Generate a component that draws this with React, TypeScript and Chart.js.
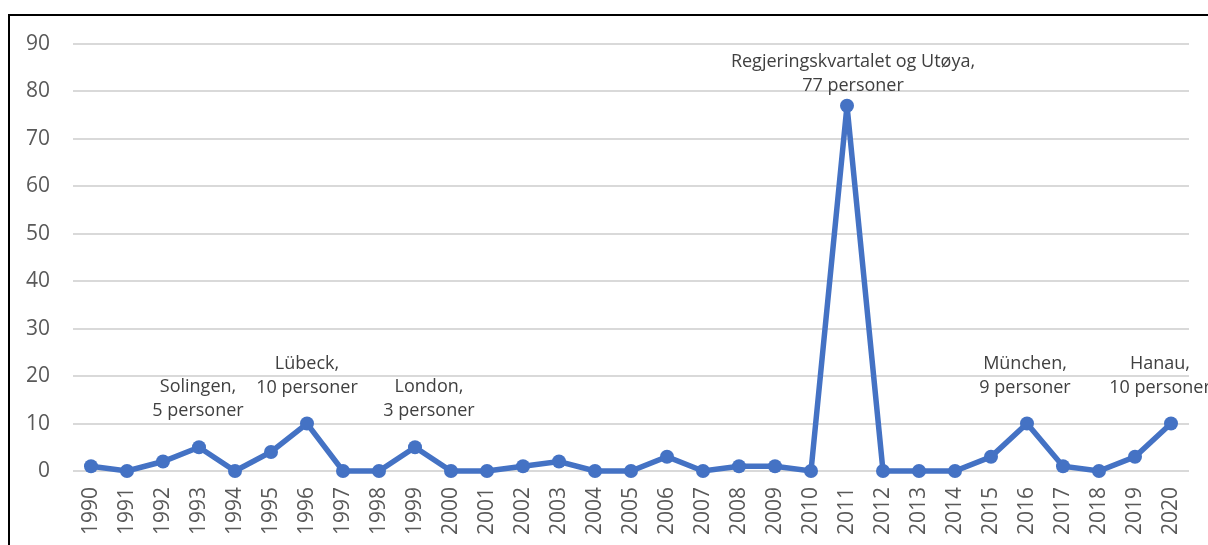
import React, { useEffect, useRef } from "react";
import { Chart, registerables } from "chart.js";

Chart.register(...registerables);

const years: string[] = [
  "1990", "1991", "1992", "1993", "1994", "1995", "1996", "1997", "1998", "1999",
  "2000", "2001", "2002", "2003", "2004", "2005", "2006", "2007", "2008", "2009",
  "2010", "2011", "2012", "2013", "2014", "2015", "2016", "2017", "2018", "2019", "2020",
];

const killed: number[] = [
  1, 0, 2, 5, 0, 4, 10, 0, 0, 5,
  0, 0, 1, 2, 0, 0, 3, 0, 1, 1,
  0, 77, 0, 0, 0, 3, 10, 1, 0, 3, 10,
];

const yTicks: number[] = [0, 10, 20, 30, 40, 50, 60, 70, 80, 90];

const annotationYears: string[] = ["1993", "1996", "1999", "2011", "2016", "2020"];
const annotationTexts: string[][] = [
  ["Solingen,", "5 personer"],
  ["Lübeck,", "10 personer"],
  ["London,", "3 personer"],
  ["Regjeringskvartalet og Utøya,", "77 personer"],
  ["München,", "9 personer"],
  ["Hanau,", "10 personer"],
];

// label placement offsets (styling only): [dx, dy above point for 2nd line center]
const annotationOffsets: [number, number][] = [
  [-1, 36],
  [0, 36],
  [14, 36],
  [6, 20],
  [-2, 36],
  [-11, 36],
];

const FONT = "'Open Sans', 'Noto Sans', sans-serif";

const annotationPlugin = {
  id: "eventLabels",
  afterDatasetsDraw(chart: any) {
    const ctx = chart.ctx as CanvasRenderingContext2D;
    const meta = chart.getDatasetMeta(0);
    ctx.save();
    ctx.font = `18px ${FONT}`;
    ctx.fillStyle = "#404040";
    ctx.textAlign = "center";
    ctx.textBaseline = "middle";
    annotationYears.forEach((yr, i) => {
      const idx = years.indexOf(yr);
      const el = meta.data[idx];
      if (!el) return;
      const [dx, dy] = annotationOffsets[i];
      const lines = annotationTexts[i];
      const lineH = 24;
      const lastY = el.y - dy;
      lines.forEach((t, j) => {
        const yy = lastY - (lines.length - 1 - j) * lineH;
        ctx.fillText(t, el.x + dx, yy);
      });
    });
    ctx.restore();
  },
};

export default function App() {
  const canvasRef = useRef<HTMLCanvasElement | null>(null);

  useEffect(() => {
    const canvas = canvasRef.current;
    if (!canvas) return;
    const chart = new Chart(canvas, {
      type: "line",
      data: {
        labels: years,
        datasets: [
          {
            data: killed,
            borderColor: "#4472C4",
            backgroundColor: "#4472C4",
            borderWidth: 5.5,
            pointRadius: 7,
            pointBackgroundColor: "#4472C4",
            pointBorderWidth: 0,
            tension: 0,
            clip: false as any,
          },
        ],
      },
      options: {
        responsive: false,
        animation: false,
        devicePixelRatio: 1,
        layout: { padding: { top: 44, right: 19, bottom: 0, left: 0 } },
        plugins: {
          legend: { display: false },
          tooltip: { enabled: false },
        },
        scales: {
          x: {
            type: "category",
            offset: true,
            grid: { display: false, drawTicks: false },
            border: { display: false },
            ticks: {
              minRotation: 90,
              maxRotation: 90,
              autoSkip: false,
              padding: 16,
              color: "#595959",
              font: { family: FONT, size: 21 },
            },
            afterFit: (scale: any) => {
              scale.height = 74;
              scale.paddingLeft = 0;
              scale.paddingRight = 0;
            },
          },
          y: {
            min: 0,
            max: 90,
            afterBuildTicks: (scale: any) => {
              scale.ticks = yTicks.map((v) => ({ value: v }));
            },
            grid: { color: "#d9d9d9", lineWidth: 2, drawTicks: false },
            border: { display: false },
            ticks: {
              padding: 23,
              color: "#595959",
              font: { family: FONT, size: 21 },
            },
            afterFit: (scale: any) => {
              scale.width = 73;
            },
          },
        },
      },
      plugins: [annotationPlugin],
    });
    return () => chart.destroy();
  }, []);

  return (
    <div
      style={{
        position: "fixed",
        left: 0,
        top: 0,
        width: 1208,
        height: 545,
        overflow: "hidden",
        background: "#ffffff",
      }}
    >
      <canvas
        ref={canvasRef}
        width={1208}
        height={545}
        style={{ position: "absolute", left: 0, top: 0, width: 1208, height: 545 }}
      />
      <div
        style={{
          position: "absolute",
          left: 8,
          top: 14,
          width: 1400,
          height: 800,
          borderTop: "2px solid #000",
          borderLeft: "2px solid #000",
          pointerEvents: "none",
        }}
      />
    </div>
  );
}
